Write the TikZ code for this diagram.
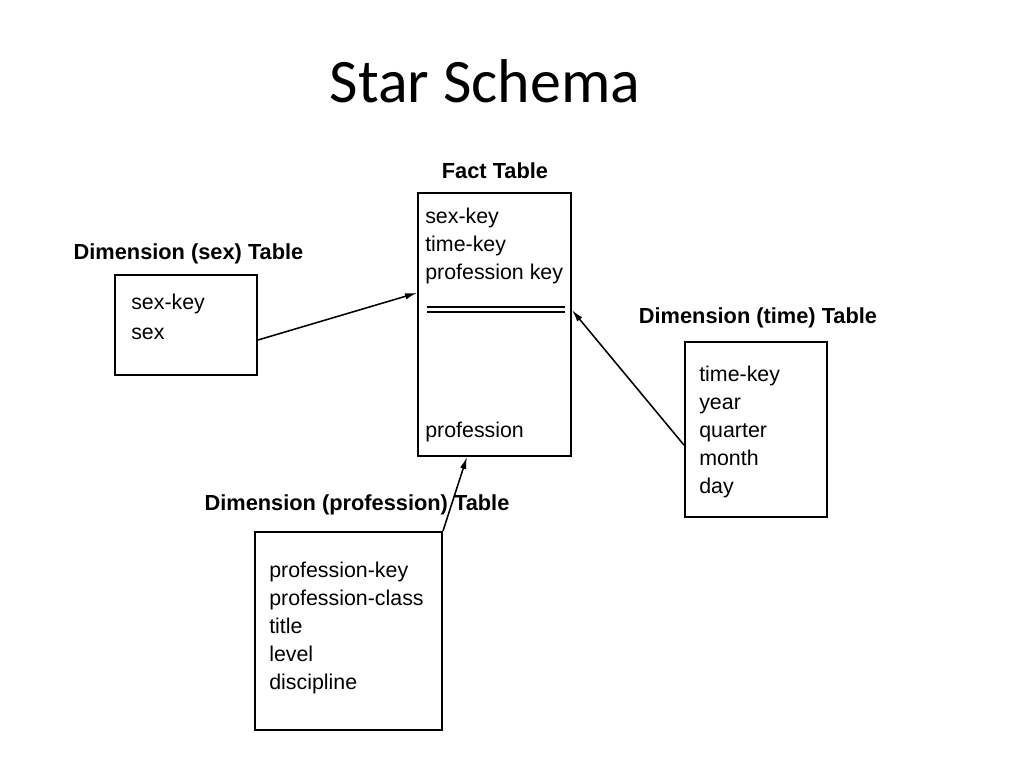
\documentclass[tikz,border=0pt]{standalone}
\usepackage{fontspec}
\setmainfont{Liberation Sans}
\newfontfamily\titlefont{Carlito}
\usetikzlibrary{arrows.meta,calc}

\begin{document}
\begin{tikzpicture}[
    tbl/.style={draw, line width=1.4pt, rectangle, inner sep=0pt},
    tblname/.style={anchor=base, inner sep=0pt, font=\bfseries\fontsize{15.5}{18}\selectfont},
    field/.style={anchor=base west, inner sep=0pt, font=\fontsize{15.2}{18}\selectfont},
    link/.style={line width=1.1pt, -{Latex[length=3mm,width=1.6mm]}}
  ]
    \useasboundingbox (0,0) rectangle (25.6,19.2);
    \node[anchor=base, inner sep=0pt, font=\titlefont\fontsize{44}{50}\selectfont] (title) at (12.125,16.625) {Star Schema};

    \node[tbl, minimum width=3.825cm, minimum height=6.575cm] (fact) at (12.3625,11.0875) {};
    \node[tblname] (factname) at (12.375,14.725) {Fact Table};
    \foreach \f [count=\i from 0] in {sex-key,time-key,profession key}
      \node[field] (fact-\i) at ($(fact.north west)+(0.2,-0.775-0.7*\i)$) {\f};
    \node[field] (fact-prof) at ($(fact.south west)+(0.2,0.475)$) {profession};
    \draw[line width=1.3pt, double, double distance=2pt] ($(fact.west)+(0.25,0.375)$) -- ($(fact.east)+(-0.175,0.375)$);

    \node[tbl, minimum width=3.55cm, minimum height=2.5cm] (sex) at (4.65,11.075) {};
    \node[tblname] (sexname) at (4.7125,12.7) {Dimension (sex) Table};
    \foreach \f [count=\i from 0] in {sex-key,sex}
      \node[field] (sex-\i) at ($(sex.north west)+(0.425,-0.875-0.75*\i)$) {\f};

    \node[tbl, minimum width=3.55cm, minimum height=4.375cm] (time) at (18.9,8.4625) {};
    \node[tblname] (timename) at (18.95,11.1) {Dimension (time) Table};
    \foreach \f [count=\i from 0] in {time-key,year,quarter,month,day}
      \node[field] (time-\i) at ($(time.north west)+(0.375,-1.0-0.7*\i)$) {\f};

    \node[tbl, minimum width=4.675cm, minimum height=4.95cm] (prof) at (8.7125,3.425) {};
    \node[tblname] (profname) at (8.925,6.425) {Dimension (profession) Table};
    \foreach \f [count=\i from 0] in {profession-key,profession-class,title,level,discipline}
      \node[field] (prof-\i) at ($(prof.north west)+(0.375,-1.15-0.7*\i)$) {\f};

    \draw[link] ([yshift=-0.375cm]sex.east) -- ([yshift=0.79cm]fact.west);
    \draw[link] ([yshift=-0.39cm]time.west) -- ([yshift=0.36cm]fact.east);
    \draw[link] (prof.north east) -- ([xshift=-0.69cm]fact.south);
  \end{tikzpicture}
\end{document}
